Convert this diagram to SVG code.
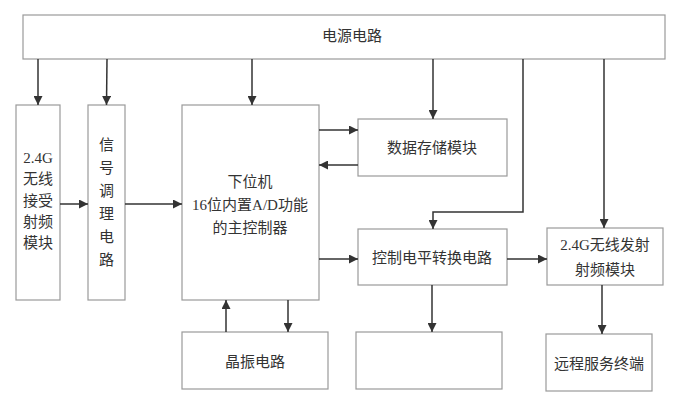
<svg xmlns="http://www.w3.org/2000/svg" width="700" height="409" viewBox="0 0 700 409">
<defs>
<marker id="ah" viewBox="0 0 10 10" refX="10" refY="5" markerWidth="9" markerHeight="9" markerUnits="userSpaceOnUse" orient="auto">
<path d="M0,0 L10,5 L0,10 z" fill="#333"/>
</marker>
</defs>
<style>
.box{fill:#fff;stroke:#9a9a9a;stroke-width:1.2}
.t{font-family:"Liberation Serif","Noto Sans CJK SC",serif;font-size:15px;fill:#333;text-anchor:middle;dominant-baseline:central}
.c{fill:none;stroke:#333;stroke-width:1.5;marker-end:url(#ah)}
.p{fill:none;stroke:#333;stroke-width:1.5}
</style>
<rect width="700" height="409" fill="#fff"/>
<g id="power"><rect class="box" x="23" y="15" width="642" height="44"/><text class="t" x="352" y="36">电源电路</text></g>
<g id="rx"><rect class="box" x="16" y="105" width="44" height="195"/>
<text class="t" x="38" y="158">2.4G</text><text class="t" x="38" y="179">无线</text><text class="t" x="38" y="201">接受</text><text class="t" x="38" y="222">射频</text><text class="t" x="38" y="243">模块</text></g>
<g id="cond"><rect class="box" x="88" y="105" width="37" height="195"/>
<text class="t" x="106.5" y="145">信</text><text class="t" x="106.5" y="168">号</text><text class="t" x="106.5" y="191">调</text><text class="t" x="106.5" y="214">理</text><text class="t" x="106.5" y="237">电</text><text class="t" x="106.5" y="260">路</text></g>
<g id="mcu"><rect class="box" x="182" y="105" width="137" height="195"/>
<text class="t" x="250" y="182">下位机</text><text class="t" x="250" y="205">16位内置A/D功能</text><text class="t" x="250" y="228">的主控制器</text></g>
<g id="storage"><rect class="box" x="358" y="119" width="149" height="57"/><text class="t" x="432" y="148">数据存储模块</text></g>
<g id="level"><rect class="box" x="358" y="229" width="149" height="56"/><text class="t" x="432" y="258">控制电平转换电路</text></g>
<g id="tx"><rect class="box" x="547" y="228" width="116" height="57"/><text class="t" x="605" y="245">2.4G无线发射</text><text class="t" x="605" y="270">射频模块</text></g>
<g id="crystal"><rect class="box" x="182" y="332" width="146" height="57"/><text class="t" x="255" y="362">晶振电路</text></g>
<g id="empty"><rect class="box" x="356" y="332" width="146" height="57"/></g>
<g id="remote"><rect class="box" x="546" y="334" width="106" height="57"/><text class="t" x="599" y="364">远程服务终端</text></g>
<g id="connectors">
<line class="c" x1="38" y1="59" x2="38" y2="105"/>
<line class="c" x1="107" y1="59" x2="106.5" y2="105"/>
<line class="c" x1="252" y1="59" x2="252" y2="105"/>
<line class="c" x1="433" y1="59" x2="433" y2="119"/>
<path class="c" d="M523,59 V212 H433 V229"/>
<line class="c" x1="604" y1="59" x2="604" y2="228"/>
<line class="c" x1="60" y1="204" x2="88" y2="204"/>
<line class="c" x1="125" y1="204" x2="182" y2="204"/>
<line class="c" x1="319" y1="130" x2="358" y2="130"/>
<line class="c" x1="358" y1="165" x2="319" y2="165"/>
<line class="c" x1="319" y1="259" x2="358" y2="259"/>
<line class="c" x1="507" y1="259" x2="547" y2="259"/>
<line class="c" x1="226" y1="332" x2="226" y2="300"/>
<line class="c" x1="288" y1="300" x2="288" y2="332"/>
<line class="c" x1="432" y1="285" x2="432" y2="332"/>
<line class="c" x1="602" y1="285" x2="602" y2="334"/>
</g>
</svg>
